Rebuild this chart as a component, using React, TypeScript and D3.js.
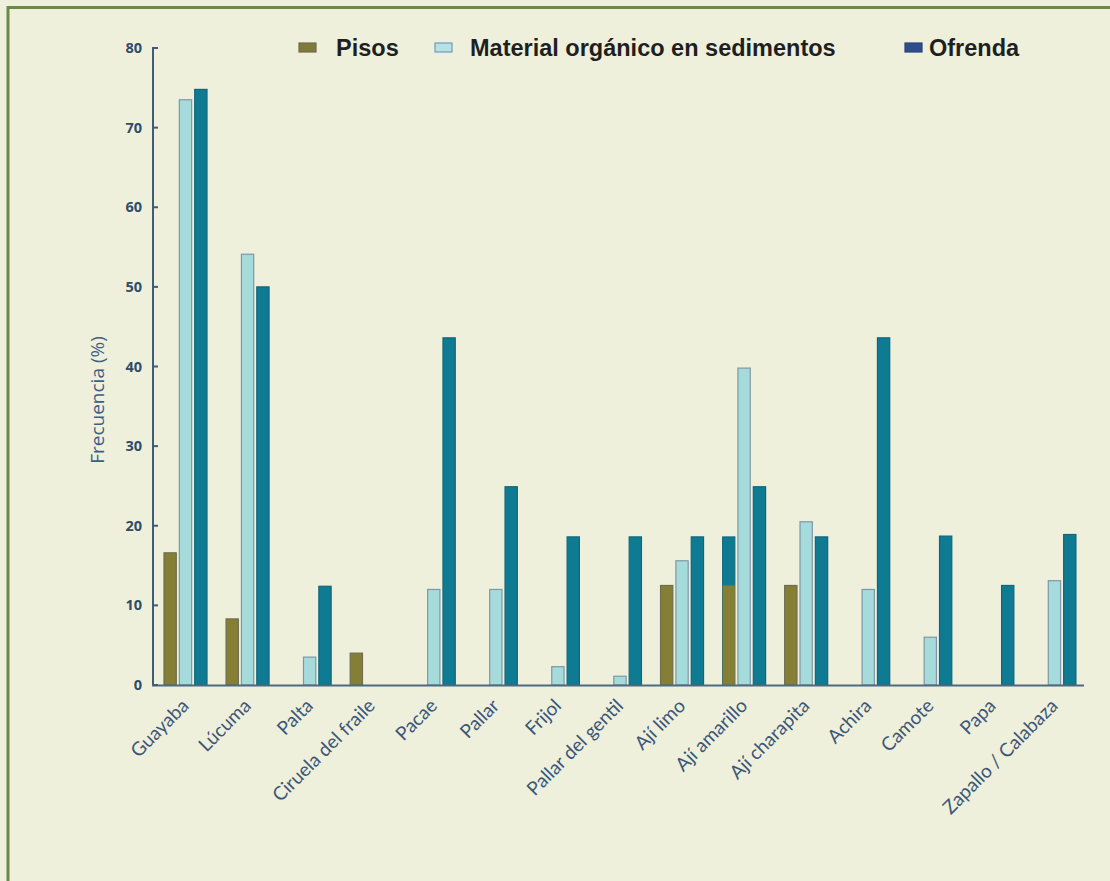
import React from "react";
import * as d3 from "d3";

const categories = [
  "Guayaba", "Lúcuma", "Palta", "Ciruela del fraile", "Pacae", "Pallar", "Frijol",
  "Pallar del gentil", "Ají limo", "Ají amarillo", "Ají charapita", "Achira",
  "Camote", "Papa", "Zapallo / Calabaza",
];
const seriesNames = ["Pisos", "Material orgánico en sedimentos", "Ofrenda"];
const pisos = [16.6, 8.3, 0, 4.0, 0, 0, 0, 0, 12.5, 12.5, 12.5, 0, 0, 0, 0];
const material = [73.5, 54.1, 3.5, 0, 12.0, 12.0, 2.3, 1.1, 15.6, 39.8, 20.5, 12.0, 6.0, 0, 13.1];
const ofrenda = [74.8, 50.0, 12.4, 0, 43.6, 24.9, 18.6, 18.6, 18.6, 24.9, 18.6, 43.6, 18.7, 12.5, 18.9];
// second Ofrenda-coloured bar behind the Pisos bar (Ají amarillo)
const ofrendaBehindPisos = [0, 0, 0, 0, 0, 0, 0, 0, 0, 18.6, 0, 0, 0, 0, 0];
const yTicks = [0, 10, 20, 30, 40, 50, 60, 70, 80];

const W = 1110, H = 881;
const fills = ["#857f36", "#a6dbdb", "#0f7b93"];
const strokes = ["#6e6d4e", "#7f97a8", "#12667c"];
const legendFills = ["#7e7a3a", "#b5e2e2", "#2e4d8c"];
const legendStrokes = ["#6e6d4e", "#6f9cc4", "#2a4178"];

export default function App() {
  const x0 = d3.scaleBand<string>().domain(categories).range([153, 1084]).paddingInner(0).paddingOuter(0);
  const x1 = d3.scaleBand<string>().domain(seriesNames).range([11, 54]).paddingInner(0.2).paddingOuter(0);
  const y = d3.scaleLinear().domain([0, 80]).range([685, 48]);
  const data = [pisos, material, ofrenda];
  const bw = x1.bandwidth();

  const legendItems = [
    { name: seriesNames[0], sx: 299, tx: 336 },
    { name: seriesNames[1], sx: 435, tx: 470 },
    { name: seriesNames[2], sx: 905, tx: 929 },
  ];

  return (
    <svg width={W} height={H} style={{ position: "absolute", left: 0, top: 0, display: "block" }}>
      <rect x={0} y={0} width={W} height={H} fill="#eef0dc" />
      <path d={`M8,${H} V7.5 H${W}`} fill="none" stroke="#6b8a47" strokeWidth={3} />

      {/* bars */}
      {categories.map((c, i) => (
        <g key={c} transform={`translate(${x0(c)},0)`}>
          {ofrendaBehindPisos[i] > 0 && (
            <rect x={x1(seriesNames[0])} y={y(ofrendaBehindPisos[i])} width={bw}
              height={y(0) - y(ofrendaBehindPisos[i])} fill={fills[2]} stroke={strokes[2]} strokeWidth={1} />
          )}
          {data.map((arr, s) =>
            arr[i] > 0 ? (
              <rect key={s} x={x1(seriesNames[s])} y={y(arr[i])} width={bw}
                height={y(0) - y(arr[i])} fill={fills[s]}
                stroke={ofrendaBehindPisos[i] > 0 && s === 0 ? "none" : strokes[s]} strokeWidth={1.2} />
            ) : null
          )}
        </g>
      ))}

      {/* axes */}
      <line x1={153} x2={153} y1={47} y2={686} stroke="#3f5d78" strokeWidth={2} />
      <line x1={152} x2={1084} y1={685.5} y2={685.5} stroke="#4d6a80" strokeWidth={2} />
      {yTicks.map((t) => (
        <g key={t}>
          <line x1={153} x2={158} y1={y(t)} y2={y(t)} stroke="#3f5d78" strokeWidth={2} />
          <text x={142} y={y(t) + 5} textAnchor="end" fontFamily="'Open Sans', sans-serif"
            fontWeight={700} fontSize={14.5} fill="#2f4c69">{t}</text>
        </g>
      ))}
      <text transform={`translate(104,400) rotate(-90)`} textAnchor="middle"
        fontFamily="'Open Sans', sans-serif" fontSize={19} fill="#3c5f88">Frecuencia (%)</text>

      {categories.map((c) => (
        <text key={c} transform={`translate(${(x0(c) as number) + 37},707) rotate(-45)`}
          textAnchor="end" fontFamily="Lato, 'Open Sans', sans-serif" fontSize={19} fill="#3b5679">{c}</text>
      ))}

      {/* legend */}
      {legendItems.map((l, i) => (
        <g key={l.name}>
          <rect x={l.sx} y={43} width={17} height={9} fill={legendFills[i]} stroke={legendStrokes[i]} strokeWidth={1.2} />
          <text x={l.tx} y={56} fontFamily="'Liberation Sans', Arial, sans-serif"
            fontWeight={700} fontSize={23.5} fill="#1f1f1f">{l.name}</text>
        </g>
      ))}
    </svg>
  );
}
